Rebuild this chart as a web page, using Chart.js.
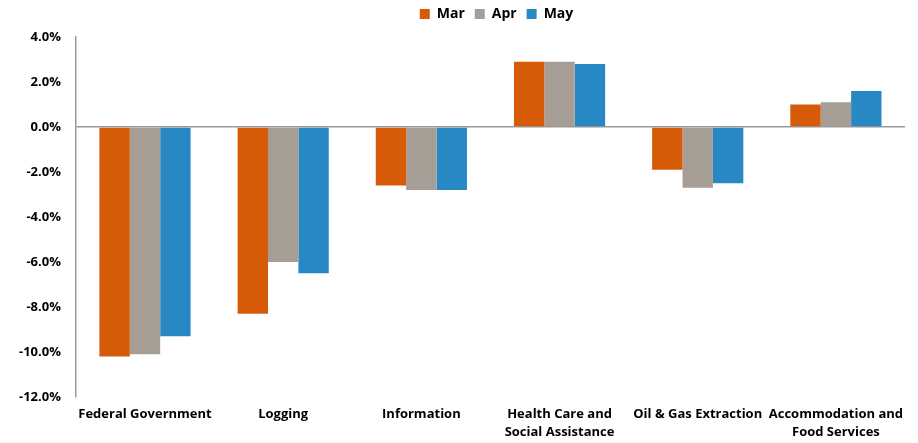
<!DOCTYPE html>
<html>
<head>
<meta charset="utf-8">
<script src="https://cdn.jsdelivr.net/npm/chart.js@4/dist/chart.umd.min.js"></script>
<style>
html,body{margin:0;padding:0;background:#fff;}
#wrap{width:918px;height:443px;position:relative;}
</style>
</head>
<body>
<div id="wrap"><canvas id="c" width="918" height="443"></canvas></div>
<script>
const categories = [
  ['Federal Government'],
  ['Logging'],
  ['Information'],
  ['Health Care and', 'Social Assistance'],
  ['Oil & Gas Extraction'],
  ['Accommodation and', 'Food Services']
];
const seriesNames = ['Mar', 'Apr', 'May'];
const marValues = [-10.2, -8.3, -2.6, 2.9, -1.9, 1.0];
const aprValues = [-10.1, -6.0, -2.8, 2.9, -2.7, 1.1];
const mayValues = [-9.3, -6.5, -2.8, 2.8, -2.5, 1.6];
const yTicks = [-12, -10, -8, -6, -4, -2, 0, 2, 4];

const colors = ['#D55B09', '#A69E94', '#2788C4'];
const font = "'Open Sans', 'DejaVu Sans', sans-serif";

const legendSpace = {
  id: 'legendSpace',
  beforeInit(chart) {
    const orig = chart.legend.fit;
    chart.legend.fit = function () {
      orig.call(this);
      this.height = 37;
    };
  },
  afterLayout(chart) {
    chart.legend.left += 84;
    chart.legend.top -= 3;
  }
};

new Chart(document.getElementById('c'), {
  type: 'bar',
  data: {
    labels: categories,
    datasets: [marValues, aprValues, mayValues].map((d, i) => ({
      label: seriesNames[i],
      data: d,
      backgroundColor: colors[i],
      borderWidth: 0,
      barPercentage: 1.0,
      categoryPercentage: 0.66
    }))
  },
  plugins: [legendSpace],
  options: {
    responsive: false,
    animation: false,
    layout: { padding: { left: 4, right: 13, top: 0, bottom: 0 } },
    plugins: {
      tooltip: { enabled: false },
      legend: {
        position: 'top',
        labels: {
          boxWidth: 10, boxHeight: 10, padding: 10,
          color: '#000',
          font: { family: font, size: 14, weight: 'bold' }
        }
      }
    },
    scales: {
      x: {
        afterFit: (scale) => { scale.height = 46; },
        grid: { display: false, drawTicks: false },
        border: { display: false },
        ticks: {
          maxRotation: 0, autoSkip: false, padding: 8,
          color: '#000',
          font: { family: font, size: 13, weight: 'bold', lineHeight: 1.4 }
        }
      },
      y: {
        min: -12, max: 4,
        afterBuildTicks: (axis) => { axis.ticks = yTicks.map(v => ({ value: v })); },
        grid: {
          drawTicks: false,
          color: (ctx) => ctx.tick && ctx.tick.value === 0 ? '#999' : 'rgba(0,0,0,0)',
          lineWidth: 1.5
        },
        border: { display: true, color: '#999', width: 1.5 },
        ticks: {
          padding: 15,
          color: '#000',
          font: { family: font, size: 13, weight: 'bold' },
          callback: (v) => v.toFixed(1) + '%'
        }
      }
    }
  }
});
</script>
</body>
</html>
